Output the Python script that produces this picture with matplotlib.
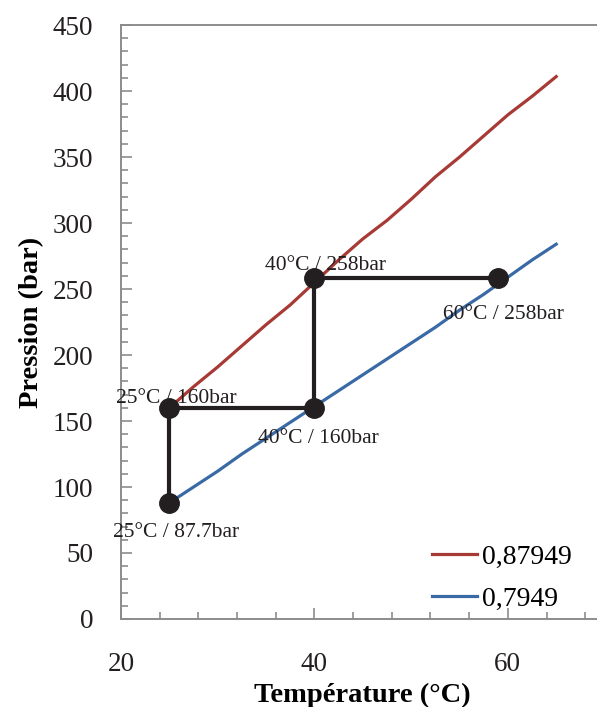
"""Pression vs température: two isochores and the process path."""

import matplotlib.pyplot as plt
from matplotlib.ticker import MultipleLocator

plt.rcParams["font.family"] = ["Liberation Serif", "DejaVu Serif"]

# isochore curves (°C, bar)
temp_curve = [25, 27.5, 30, 32.5, 35, 37.5, 40, 42.5, 45, 47.5, 50, 52.5, 55, 57.5, 60, 62.5, 65]
p_087949 = [160, 176, 191, 207, 223, 238, 255, 272, 288, 302, 318, 335, 350, 366, 382, 396, 411]
p_07949 = [88, 100, 112, 125, 137, 149, 161, 173, 185, 197, 209, 221, 234, 246, 259, 272, 284]

# process path points
path_temp = [25, 25, 40, 40, 59]
path_pres = [87.7, 160, 160, 258, 258]
path_labels = ["25°C / 87.7bar", "25°C / 160bar", "40°C / 160bar", "40°C / 258bar", "60°C / 258bar"]
# label offsets in points (dx, dy)
label_offsets = [(5, -21), (5, 7), (3, -22), (8, 9), (4, -26)]

fig = plt.figure(figsize=(5.97, 7.07), dpi=100)
ax = fig.add_axes([0.2027, 0.1245, 0.8100, 0.8400])

ax.plot(temp_curve, p_087949, color="#a83a36", lw=2.3, label="0,87949", zorder=2)
ax.plot(temp_curve, p_07949, color="#3a6aa6", lw=2.3, label="0,7949", zorder=2)
ax.plot(path_temp, path_pres, color="#231f20", lw=3, marker="o", ms=14,
        solid_joinstyle="miter", zorder=3)

for t, p, lab, (dx, dy) in zip(path_temp, path_pres, path_labels, label_offsets):
    ax.annotate(lab, (t, p), xytext=(dx, dy), textcoords="offset points",
                ha="center", va="center", fontsize=15.5, color="#231f20", zorder=4)

ax.set_xlim(20, 70)
ax.set_ylim(0, 450)
ax.xaxis.set_major_locator(MultipleLocator(20))
ax.xaxis.set_minor_locator(MultipleLocator(4))
ax.yaxis.set_major_locator(MultipleLocator(50))
ax.yaxis.set_minor_locator(MultipleLocator(10))
ax.tick_params(which="both", direction="in", colors="#8c8c8c", labelcolor="#231f20",
               width=1.2, labelsize=19.5)
ax.tick_params(which="major", length=8)
ax.tick_params(which="minor", length=5)
ax.tick_params(axis="x", which="major", pad=24)
ax.tick_params(axis="y", which="major", pad=20)

for side in ["left", "bottom", "top"]:
    ax.spines[side].set_color("#8c8c8c")
    ax.spines[side].set_linewidth(1.4)
ax.spines["right"].set_visible(False)

ax.set_xlabel("Température (°C)", fontsize=20.5, fontweight="bold", labelpad=4)
ax.set_ylabel("Pression (bar)", fontsize=20.5, fontweight="bold", labelpad=6)

ax.legend(loc="lower right", bbox_to_anchor=(0.985, -0.03), frameon=False, fontsize=20,
          handlelength=1.6, handletextpad=0.2, labelspacing=0.6)

fig.savefig("out.png", dpi=100)
